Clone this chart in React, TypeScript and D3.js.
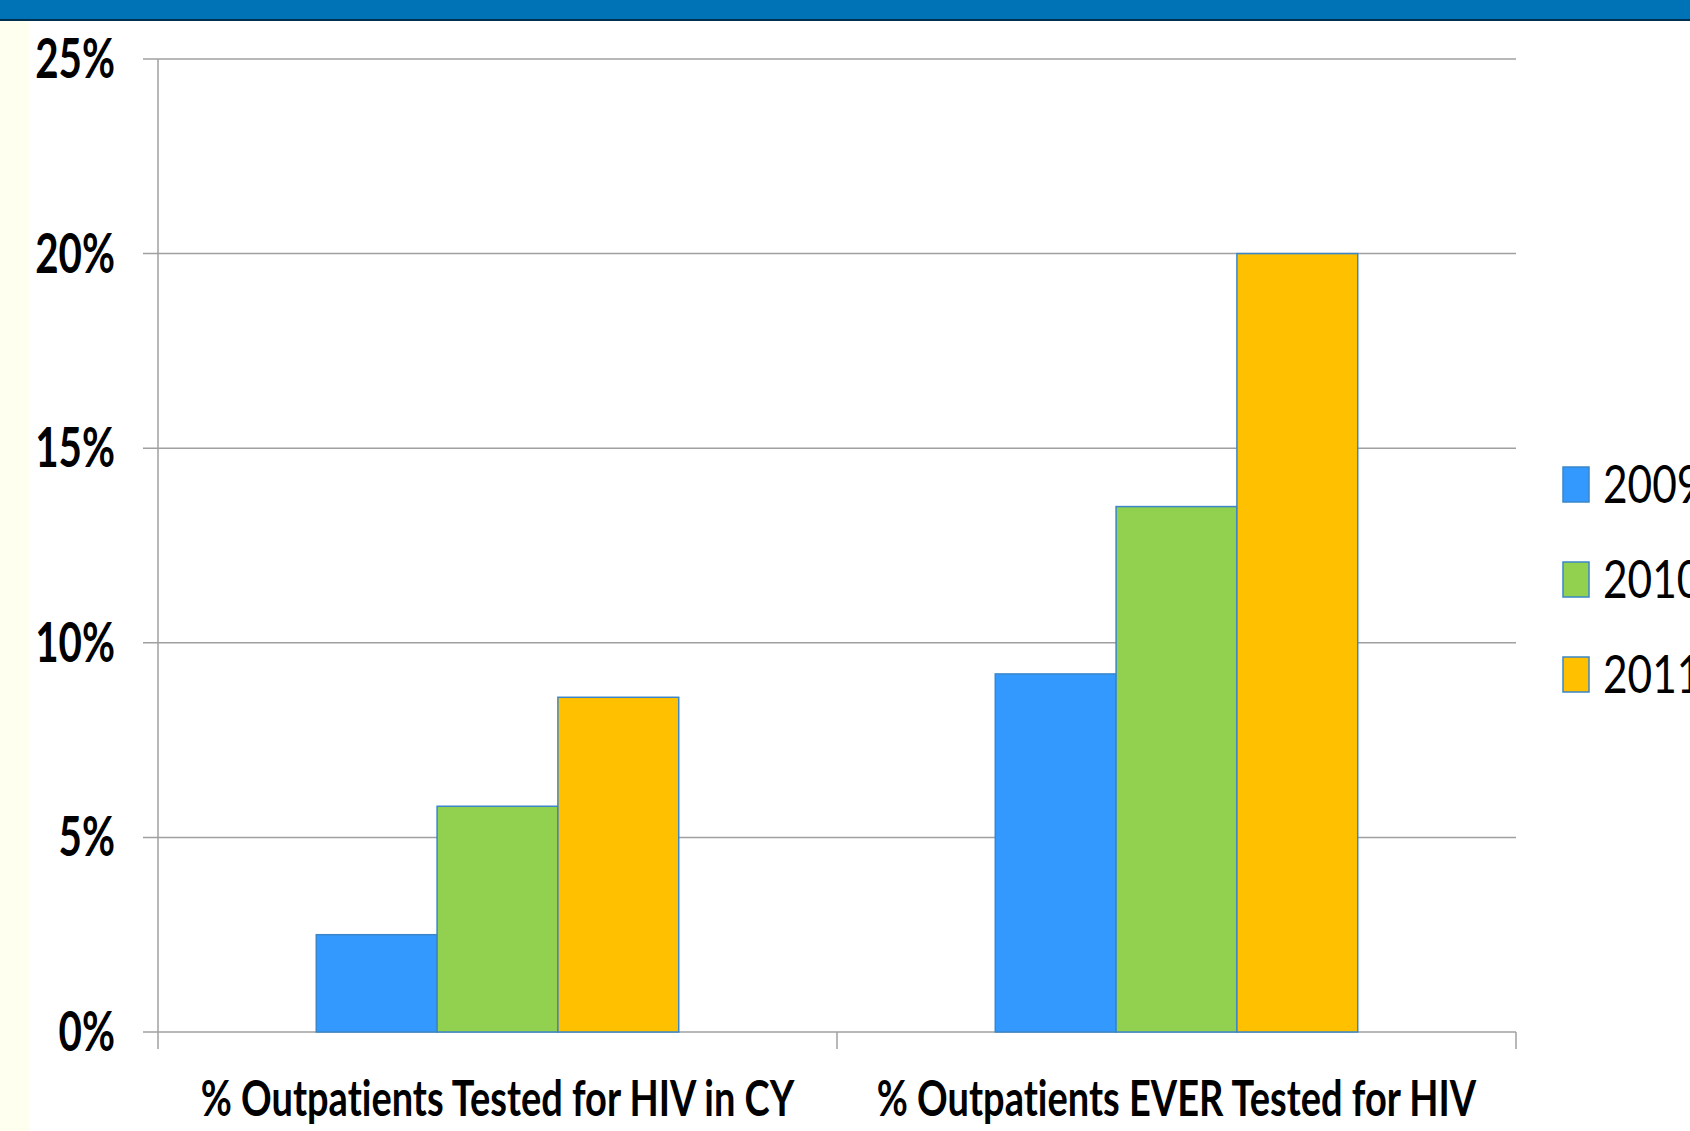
import React, { useEffect, useRef } from "react";
import * as d3 from "d3";

const categories = ["% Outpatients Tested for HIV in CY", "% Outpatients EVER Tested for HIV"];
const years = ["2009", "2010", "2011"];
const values2009 = [2.5, 9.2];
const values2010 = [5.8, 13.5];
const values2011 = [8.6, 20.0];
const yTickValues = [0, 5, 10, 15, 20, 25];
const yTickLabels = ["0%", "5%", "10%", "15%", "20%", "25%"];

const seriesColors = ["#3399FF", "#92D050", "#FFC000"];

const W = 1690;
const H = 1131;
const noLigatures = "font-variant-ligatures: none; font-feature-settings: 'liga' 0, 'clig' 0, 'calt' 0, 'dlig' 0;";

const App = () => {
  const svgEl = useRef<SVGSVGElement | null>(null);

  useEffect(() => {
    if (!svgEl.current) return;
    drawChartOn(svgEl.current);
  }, [svgEl]);

  return (
    <svg
      ref={svgEl}
      width={W}
      height={H}
      style={{ position: "absolute", left: 0, top: 0, display: "block" }}
    ></svg>
  );
};

function drawChartOn(el: SVGSVGElement) {
  const svg = d3.select(el);
  svg.selectAll("*").remove();

  const plot = { left: 158, right: 1516, top: 59, bottom: 1032 };
  const series = [values2009, values2010, values2011];

  // page furniture
  svg.append("rect").attr("width", W).attr("height", H).attr("fill", "#ffffff");
  svg.append("rect").attr("x", 0).attr("y", 0).attr("width", W).attr("height", 19).attr("fill", "#0072B6");
  svg.append("line").attr("x1", 0).attr("x2", W).attr("y1", 20).attr("y2", 20)
    .attr("stroke", "#00304F").attr("stroke-width", 2);
  svg.append("rect").attr("x", 0).attr("y", 21).attr("width", 29).attr("height", H - 21).attr("fill", "#FFFFF0");

  const y = d3.scaleLinear().domain([0, 25]).range([plot.bottom, plot.top]);
  const x0 = d3.scaleBand<string>().domain(categories).range([plot.left, plot.right]).padding(0);
  const x1 = d3.scaleBand<string>().domain(years).range([0, x0.bandwidth()])
    .paddingInner(0).paddingOuter(1.31);

  const gridColor = "#A0A0A0";

  // gridlines
  svg.append("g").selectAll("line")
    .data(yTickValues)
    .join("line")
    .attr("x1", plot.left - 15)
    .attr("x2", plot.right)
    .attr("y1", (d) => y(d))
    .attr("y2", (d) => y(d))
    .attr("stroke", gridColor)
    .attr("stroke-width", 1.5);

  // y axis line
  svg.append("line")
    .attr("x1", plot.left).attr("x2", plot.left)
    .attr("y1", plot.top).attr("y2", plot.bottom + 17)
    .attr("stroke", gridColor).attr("stroke-width", 1.5);

  // category ticks
  svg.append("g").selectAll("line")
    .data(categories)
    .join("line")
    .attr("x1", (d) => (x0(d) as number) + x0.bandwidth())
    .attr("x2", (d) => (x0(d) as number) + x0.bandwidth())
    .attr("y1", plot.bottom)
    .attr("y2", plot.bottom + 17)
    .attr("stroke", gridColor)
    .attr("stroke-width", 1.5);

  // bars
  const groups = svg.append("g").selectAll("g")
    .data(categories)
    .join("g")
    .attr("transform", (d) => "translate(" + x0(d) + ",0)");

  groups.selectAll("rect")
    .data((_d, i) => years.map((yr, s) => ({ yr, s, v: series[s][i] })))
    .join("rect")
    .attr("x", (d) => x1(d.yr) as number)
    .attr("width", x1.bandwidth())
    .attr("y", (d) => y(d.v))
    .attr("height", (d) => y(0) - y(d.v))
    .attr("fill", (d) => seriesColors[d.s])
    .attr("stroke", "#3A86C8")
    .attr("stroke-width", 1.5);

  // y tick labels
  svg.append("g").selectAll("g")
    .data(yTickValues)
    .join("g")
    .attr("transform", (d) => "translate(115," + (y(d) + 19) + ") scale(0.72,1)")
    .append("text")
    .attr("text-anchor", "end")
    .attr("font-family", "Lato, 'Open Sans', sans-serif")
    .attr("font-weight", "bold")
    .attr("font-size", 56)
    .attr("fill", "#000")
    .text((_d, i) => yTickLabels[i]);

  // category labels
  svg.append("g").selectAll("g")
    .data(categories)
    .join("g")
    .attr("transform", (d) => "translate(" + ((x0(d) as number) + x0.bandwidth() / 2) + ",1116) scale(0.76,1)")
    .append("text")
    .attr("style", noLigatures)
    .attr("text-anchor", "middle")
    .attr("font-family", "Lato, 'Open Sans', sans-serif")
    .attr("font-weight", "bold")
    .attr("font-size", 50)
    .attr("fill", "#000")
    .text((d) => d);

  // legend (the reference crops the labels at the right edge)
  const legend = svg.append("g").selectAll("g")
    .data(years)
    .join("g")
    .attr("transform", (_d, i) => "translate(1563," + (467 + i * 95) + ")");

  legend.append("rect")
    .attr("width", 26)
    .attr("height", 35)
    .attr("fill", (_d, i) => seriesColors[i])
    .attr("stroke", "#3A86C8")
    .attr("stroke-width", 1.5);

  legend.append("g")
    .attr("transform", "translate(40,36) scale(0.8,1)")
    .append("text")
    .attr("font-family", "Lato, 'Open Sans', sans-serif")
    .attr("font-size", 53)
    .attr("fill", "#000")
    .text((d) => d);
}

export default App;
